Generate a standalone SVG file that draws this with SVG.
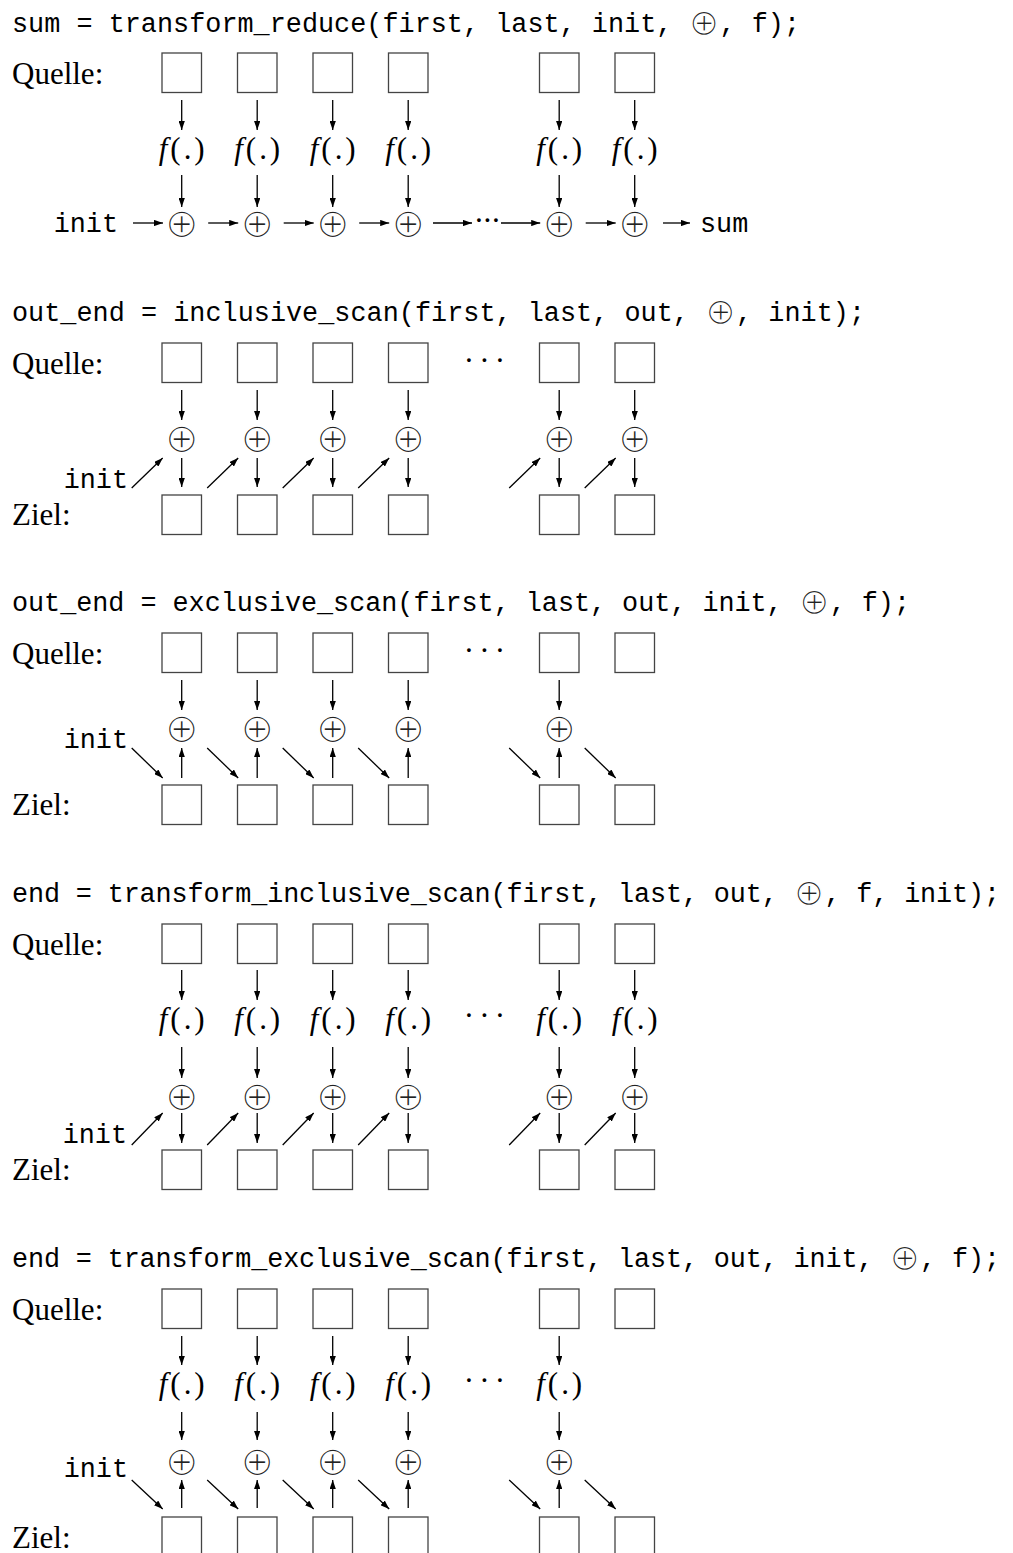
<svg xmlns="http://www.w3.org/2000/svg" width="1013" height="1553" viewBox="0 0 1013 1553">
<style>
.bg{fill:#fff}
.box{fill:none;stroke:#444;stroke-width:1.3}
.arr{fill:none;stroke:#000;stroke-width:1.3;marker-end:url(#ah)}
.mono{font-family:"Liberation Mono","DejaVu Sans Mono",monospace;font-size:26.8px;fill:#000}
.serif{font-family:"Liberation Serif","Times New Roman",serif;font-size:31px;fill:#000}
.op{font-family:"DejaVu Sans",sans-serif;font-size:41px;fill:#222;stroke:#fff;stroke-width:1.7px;text-anchor:middle;dominant-baseline:central}
.opt{font-family:"DejaVu Sans",sans-serif;font-size:37px;fill:#222;stroke:#fff;stroke-width:1.5px}
.fx{font-family:"Liberation Serif","Times New Roman",serif;font-size:31px;text-anchor:middle;fill:#000}
.fi{font-style:italic}
.dots{font-family:"Liberation Serif",serif;font-size:31px;text-anchor:middle;fill:#000}
</style>
<defs>
<marker id="ah" viewBox="0 0 10 7" refX="10" refY="3.5" markerWidth="9" markerHeight="6.3" markerUnits="userSpaceOnUse" orient="auto">
<path d="M0,0 L10,3.5 L0,7 z" fill="#000"/>
</marker>
</defs>
<rect class="bg" x="0" y="0" width="1013" height="1553"/>

<!-- ============ Section 1 ============ -->
<g id="s1">
<text id="s1-title" class="mono" x="12" y="32" textLength="788" lengthAdjust="spacing">sum = transform_reduce(first, last, init, <tspan class="opt" dy="3">⊕</tspan><tspan dy="-3">, f);</tspan></text>
<text id="s1-quelle" class="serif" x="12" y="84">Quelle:</text>
<g id="s1-src">
<rect class="box" x="162" y="53" width="39.5" height="39.5"/>
<rect class="box" x="237.5" y="53" width="39.5" height="39.5"/>
<rect class="box" x="313" y="53" width="39.5" height="39.5"/>
<rect class="box" x="388.5" y="53" width="39.5" height="39.5"/>
<rect class="box" x="539.5" y="53" width="39.5" height="39.5"/>
<rect class="box" x="615" y="53" width="39.5" height="39.5"/>
</g>
<g id="s1-f">
<text class="fx" x="181.7" y="159" textLength="46" lengthAdjust="spacing"><tspan class="fi">f</tspan>(.)</text>
<text class="fx" x="257.2" y="159" textLength="46" lengthAdjust="spacing"><tspan class="fi">f</tspan>(.)</text>
<text class="fx" x="332.7" y="159" textLength="46" lengthAdjust="spacing"><tspan class="fi">f</tspan>(.)</text>
<text class="fx" x="408.2" y="159" textLength="46" lengthAdjust="spacing"><tspan class="fi">f</tspan>(.)</text>
<text class="fx" x="559.2" y="159" textLength="46" lengthAdjust="spacing"><tspan class="fi">f</tspan>(.)</text>
<text class="fx" x="634.7" y="159" textLength="46" lengthAdjust="spacing"><tspan class="fi">f</tspan>(.)</text>
</g>
<g id="s1-op">
<text class="op" x="181.7" y="223">⊕</text>
<text class="op" x="257.2" y="223">⊕</text>
<text class="op" x="332.7" y="223">⊕</text>
<text class="op" x="408.2" y="223">⊕</text>
<text class="op" x="559.2" y="223">⊕</text>
<text class="op" x="634.7" y="223">⊕</text>
</g>
<text id="s1-init" class="mono" x="118" y="232" text-anchor="end">init</text>
<text id="s1-dots" class="dots" x="479 487.5 496" y="231">···</text>
<text id="s1-sum" class="mono" x="700" y="232">sum</text>
<g id="s1-conn">
<path class="arr" d="M181.7,100V130"/><path class="arr" d="M257.2,100V130"/><path class="arr" d="M332.7,100V130"/><path class="arr" d="M408.2,100V130"/><path class="arr" d="M559.2,100V130"/><path class="arr" d="M634.7,100V130"/>
<path class="arr" d="M181.7,175V207"/><path class="arr" d="M257.2,175V207"/><path class="arr" d="M332.7,175V207"/><path class="arr" d="M408.2,175V207"/><path class="arr" d="M559.2,175V207"/><path class="arr" d="M634.7,175V207"/>
<path class="arr" d="M133,223H163"/>
<path class="arr" d="M208.2,223H238.2"/>
<path class="arr" d="M283.7,223H313.7"/>
<path class="arr" d="M359.2,223H389.2"/>
<path class="arr" d="M433,223H472"/>
<path class="arr" d="M501,223H540.2"/>
<path class="arr" d="M585.7,223H615.7"/>
<path class="arr" d="M663,223H690"/>
</g>
</g>

<!-- ============ Section 2 ============ -->
<g id="s2">
<text id="s2-title" class="mono" x="12" y="321" textLength="853" lengthAdjust="spacing">out_end = inclusive_scan(first, last, out, <tspan class="opt" dy="3">⊕</tspan><tspan dy="-3">, init);</tspan></text>
<text id="s2-quelle" class="serif" x="12" y="374">Quelle:</text>
<text id="s2-ziel" class="serif" x="12" y="525">Ziel:</text>
<g id="s2-src">
<rect class="box" x="162" y="343" width="39.5" height="39.5"/>
<rect class="box" x="237.5" y="343" width="39.5" height="39.5"/>
<rect class="box" x="313" y="343" width="39.5" height="39.5"/>
<rect class="box" x="388.5" y="343" width="39.5" height="39.5"/>
<rect class="box" x="539.5" y="343" width="39.5" height="39.5"/>
<rect class="box" x="615" y="343" width="39.5" height="39.5"/>
</g>
<text id="s2-dots" class="dots" x="469 484.5 500" y="371">···</text>
<g id="s2-op">
<text class="op" x="181.7" y="438">⊕</text>
<text class="op" x="257.2" y="438">⊕</text>
<text class="op" x="332.7" y="438">⊕</text>
<text class="op" x="408.2" y="438">⊕</text>
<text class="op" x="559.2" y="438">⊕</text>
<text class="op" x="634.7" y="438">⊕</text>
</g>
<text id="s2-init" class="mono" x="128" y="488" text-anchor="end">init</text>
<g id="s2-dst">
<rect class="box" x="162" y="495" width="39.5" height="39.5"/>
<rect class="box" x="237.5" y="495" width="39.5" height="39.5"/>
<rect class="box" x="313" y="495" width="39.5" height="39.5"/>
<rect class="box" x="388.5" y="495" width="39.5" height="39.5"/>
<rect class="box" x="539.5" y="495" width="39.5" height="39.5"/>
<rect class="box" x="615" y="495" width="39.5" height="39.5"/>
</g>
<g id="s2-conn">
<path class="arr" d="M181.7,390V420"/><path class="arr" d="M257.2,390V420"/><path class="arr" d="M332.7,390V420"/><path class="arr" d="M408.2,390V420"/><path class="arr" d="M559.2,390V420"/><path class="arr" d="M634.7,390V420"/>
<path class="arr" d="M181.7,458V487"/><path class="arr" d="M257.2,458V487"/><path class="arr" d="M332.7,458V487"/><path class="arr" d="M408.2,458V487"/><path class="arr" d="M559.2,458V487"/><path class="arr" d="M634.7,458V487"/>
<path class="arr" d="M131.7,488L162.7,458"/><path class="arr" d="M207.2,488L238.2,458"/><path class="arr" d="M282.7,488L313.7,458"/><path class="arr" d="M358.2,488L389.2,458"/><path class="arr" d="M509.2,488L540.2,458"/><path class="arr" d="M584.7,488L615.7,458"/>
</g>
</g>

<!-- ============ Section 3 ============ -->
<g id="s3">
<text id="s3-title" class="mono" x="12" y="611" textLength="898" lengthAdjust="spacing">out_end = exclusive_scan(first, last, out, init, <tspan class="opt" dy="3">⊕</tspan><tspan dy="-3">, f);</tspan></text>
<text id="s3-quelle" class="serif" x="12" y="664">Quelle:</text>
<text id="s3-ziel" class="serif" x="12" y="815">Ziel:</text>
<g id="s3-src">
<rect class="box" x="162" y="633" width="39.5" height="39.5"/>
<rect class="box" x="237.5" y="633" width="39.5" height="39.5"/>
<rect class="box" x="313" y="633" width="39.5" height="39.5"/>
<rect class="box" x="388.5" y="633" width="39.5" height="39.5"/>
<rect class="box" x="539.5" y="633" width="39.5" height="39.5"/>
<rect class="box" x="615" y="633" width="39.5" height="39.5"/>
</g>
<text id="s3-dots" class="dots" x="469 484.5 500" y="661">···</text>
<g id="s3-op">
<text class="op" x="181.7" y="728">⊕</text>
<text class="op" x="257.2" y="728">⊕</text>
<text class="op" x="332.7" y="728">⊕</text>
<text class="op" x="408.2" y="728">⊕</text>
<text class="op" x="559.2" y="728">⊕</text>
</g>
<text id="s3-init" class="mono" x="128" y="748" text-anchor="end">init</text>
<g id="s3-dst">
<rect class="box" x="162" y="785" width="39.5" height="39.5"/>
<rect class="box" x="237.5" y="785" width="39.5" height="39.5"/>
<rect class="box" x="313" y="785" width="39.5" height="39.5"/>
<rect class="box" x="388.5" y="785" width="39.5" height="39.5"/>
<rect class="box" x="539.5" y="785" width="39.5" height="39.5"/>
<rect class="box" x="615" y="785" width="39.5" height="39.5"/>
</g>
<g id="s3-conn">
<path class="arr" d="M181.7,680V710"/><path class="arr" d="M257.2,680V710"/><path class="arr" d="M332.7,680V710"/><path class="arr" d="M408.2,680V710"/><path class="arr" d="M559.2,680V710"/>
<path class="arr" d="M181.7,778V748"/><path class="arr" d="M257.2,778V748"/><path class="arr" d="M332.7,778V748"/><path class="arr" d="M408.2,778V748"/><path class="arr" d="M559.2,778V748"/>
<path class="arr" d="M131.7,748L162.7,778"/><path class="arr" d="M207.2,748L238.2,778"/><path class="arr" d="M282.7,748L313.7,778"/><path class="arr" d="M358.2,748L389.2,778"/><path class="arr" d="M509.2,748L540.2,778"/><path class="arr" d="M584.7,748L615.7,778"/>
</g>
</g>

<!-- ============ Section 4 ============ -->
<g id="s4">
<text id="s4-title" class="mono" x="12" y="902" textLength="988" lengthAdjust="spacing">end = transform_inclusive_scan(first, last, out, <tspan class="opt" dy="3">⊕</tspan><tspan dy="-3">, f, init);</tspan></text>
<text id="s4-quelle" class="serif" x="12" y="955">Quelle:</text>
<text id="s4-ziel" class="serif" x="12" y="1180">Ziel:</text>
<g id="s4-src">
<rect class="box" x="162" y="924" width="39.5" height="39.5"/>
<rect class="box" x="237.5" y="924" width="39.5" height="39.5"/>
<rect class="box" x="313" y="924" width="39.5" height="39.5"/>
<rect class="box" x="388.5" y="924" width="39.5" height="39.5"/>
<rect class="box" x="539.5" y="924" width="39.5" height="39.5"/>
<rect class="box" x="615" y="924" width="39.5" height="39.5"/>
</g>
<g id="s4-f">
<text class="fx" x="181.7" y="1029" textLength="46" lengthAdjust="spacing"><tspan class="fi">f</tspan>(.)</text>
<text class="fx" x="257.2" y="1029" textLength="46" lengthAdjust="spacing"><tspan class="fi">f</tspan>(.)</text>
<text class="fx" x="332.7" y="1029" textLength="46" lengthAdjust="spacing"><tspan class="fi">f</tspan>(.)</text>
<text class="fx" x="408.2" y="1029" textLength="46" lengthAdjust="spacing"><tspan class="fi">f</tspan>(.)</text>
<text class="fx" x="559.2" y="1029" textLength="46" lengthAdjust="spacing"><tspan class="fi">f</tspan>(.)</text>
<text class="fx" x="634.7" y="1029" textLength="46" lengthAdjust="spacing"><tspan class="fi">f</tspan>(.)</text>
</g>
<text id="s4-dots" class="dots" x="469 484.5 500" y="1026">···</text>
<g id="s4-op">
<text class="op" x="181.7" y="1096">⊕</text>
<text class="op" x="257.2" y="1096">⊕</text>
<text class="op" x="332.7" y="1096">⊕</text>
<text class="op" x="408.2" y="1096">⊕</text>
<text class="op" x="559.2" y="1096">⊕</text>
<text class="op" x="634.7" y="1096">⊕</text>
</g>
<text id="s4-init" class="mono" x="127" y="1143" text-anchor="end">init</text>
<g id="s4-dst">
<rect class="box" x="162" y="1150" width="39.5" height="39.5"/>
<rect class="box" x="237.5" y="1150" width="39.5" height="39.5"/>
<rect class="box" x="313" y="1150" width="39.5" height="39.5"/>
<rect class="box" x="388.5" y="1150" width="39.5" height="39.5"/>
<rect class="box" x="539.5" y="1150" width="39.5" height="39.5"/>
<rect class="box" x="615" y="1150" width="39.5" height="39.5"/>
</g>
<g id="s4-conn">
<path class="arr" d="M181.7,970V1000"/><path class="arr" d="M257.2,970V1000"/><path class="arr" d="M332.7,970V1000"/><path class="arr" d="M408.2,970V1000"/><path class="arr" d="M559.2,970V1000"/><path class="arr" d="M634.7,970V1000"/>
<path class="arr" d="M181.7,1047V1078"/><path class="arr" d="M257.2,1047V1078"/><path class="arr" d="M332.7,1047V1078"/><path class="arr" d="M408.2,1047V1078"/><path class="arr" d="M559.2,1047V1078"/><path class="arr" d="M634.7,1047V1078"/>
<path class="arr" d="M181.7,1113V1143"/><path class="arr" d="M257.2,1113V1143"/><path class="arr" d="M332.7,1113V1143"/><path class="arr" d="M408.2,1113V1143"/><path class="arr" d="M559.2,1113V1143"/><path class="arr" d="M634.7,1113V1143"/>
<path class="arr" d="M131.7,1145L162.7,1113"/><path class="arr" d="M207.2,1145L238.2,1113"/><path class="arr" d="M282.7,1145L313.7,1113"/><path class="arr" d="M358.2,1145L389.2,1113"/><path class="arr" d="M509.2,1145L540.2,1113"/><path class="arr" d="M584.7,1145L615.7,1113"/>
</g>
</g>

<!-- ============ Section 5 ============ -->
<g id="s5">
<text id="s5-title" class="mono" x="12" y="1267" textLength="988" lengthAdjust="spacing">end = transform_exclusive_scan(first, last, out, init, <tspan class="opt" dy="3">⊕</tspan><tspan dy="-3">, f);</tspan></text>
<text id="s5-quelle" class="serif" x="12" y="1320">Quelle:</text>
<text id="s5-ziel" class="serif" x="12" y="1548">Ziel:</text>
<g id="s5-src">
<rect class="box" x="162" y="1289" width="39.5" height="39.5"/>
<rect class="box" x="237.5" y="1289" width="39.5" height="39.5"/>
<rect class="box" x="313" y="1289" width="39.5" height="39.5"/>
<rect class="box" x="388.5" y="1289" width="39.5" height="39.5"/>
<rect class="box" x="539.5" y="1289" width="39.5" height="39.5"/>
<rect class="box" x="615" y="1289" width="39.5" height="39.5"/>
</g>
<g id="s5-f">
<text class="fx" x="181.7" y="1394" textLength="46" lengthAdjust="spacing"><tspan class="fi">f</tspan>(.)</text>
<text class="fx" x="257.2" y="1394" textLength="46" lengthAdjust="spacing"><tspan class="fi">f</tspan>(.)</text>
<text class="fx" x="332.7" y="1394" textLength="46" lengthAdjust="spacing"><tspan class="fi">f</tspan>(.)</text>
<text class="fx" x="408.2" y="1394" textLength="46" lengthAdjust="spacing"><tspan class="fi">f</tspan>(.)</text>
<text class="fx" x="559.2" y="1394" textLength="46" lengthAdjust="spacing"><tspan class="fi">f</tspan>(.)</text>
</g>
<text id="s5-dots" class="dots" x="469 484.5 500" y="1391">···</text>
<g id="s5-op">
<text class="op" x="181.7" y="1461">⊕</text>
<text class="op" x="257.2" y="1461">⊕</text>
<text class="op" x="332.7" y="1461">⊕</text>
<text class="op" x="408.2" y="1461">⊕</text>
<text class="op" x="559.2" y="1461">⊕</text>
</g>
<text id="s5-init" class="mono" x="128" y="1477" text-anchor="end">init</text>
<g id="s5-dst">
<rect class="box" x="162" y="1517" width="39.5" height="39.5"/>
<rect class="box" x="237.5" y="1517" width="39.5" height="39.5"/>
<rect class="box" x="313" y="1517" width="39.5" height="39.5"/>
<rect class="box" x="388.5" y="1517" width="39.5" height="39.5"/>
<rect class="box" x="539.5" y="1517" width="39.5" height="39.5"/>
<rect class="box" x="615" y="1517" width="39.5" height="39.5"/>
</g>
<g id="s5-conn">
<path class="arr" d="M181.7,1336V1365"/><path class="arr" d="M257.2,1336V1365"/><path class="arr" d="M332.7,1336V1365"/><path class="arr" d="M408.2,1336V1365"/><path class="arr" d="M559.2,1336V1365"/>
<path class="arr" d="M181.7,1412V1440"/><path class="arr" d="M257.2,1412V1440"/><path class="arr" d="M332.7,1412V1440"/><path class="arr" d="M408.2,1412V1440"/><path class="arr" d="M559.2,1412V1440"/>
<path class="arr" d="M181.7,1508V1480"/><path class="arr" d="M257.2,1508V1480"/><path class="arr" d="M332.7,1508V1480"/><path class="arr" d="M408.2,1508V1480"/><path class="arr" d="M559.2,1508V1480"/>
<path class="arr" d="M131.7,1480L162.7,1509"/><path class="arr" d="M207.2,1480L238.2,1509"/><path class="arr" d="M282.7,1480L313.7,1509"/><path class="arr" d="M358.2,1480L389.2,1509"/><path class="arr" d="M509.2,1480L540.2,1509"/><path class="arr" d="M584.7,1480L615.7,1509"/>
</g>
</g>
</svg>
